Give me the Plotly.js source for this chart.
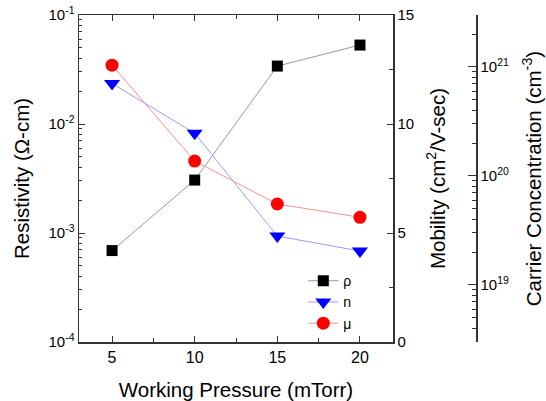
<!DOCTYPE html>
<html>
<head>
<meta charset="utf-8">
<script src="https://cdn.plot.ly/plotly-3.0.1.min.js"></script>
<style>html,body{margin:0;padding:0;background:#fff;}#chart{width:546px;height:401px;}</style>
</head>
<body>
<div id="chart"></div>
<script>
const pressure = [5, 10, 15, 20];
const resistivity = [6.9e-4, 3.06e-3, 0.034, 0.053];
const concentration = [7.05e20, 2.47e20, 2.81e19, 2.05e19];
const mobility = [12.7, 8.3, 6.33, 5.72];
const xTicks = [5, 10, 15, 20];
const resTickVals = [1e-4, 1e-3, 1e-2, 1e-1];
const resTickText = ['10<sup>-4</sup>', '10<sup>-3</sup>', '10<sup>-2</sup>', '10<sup>-1</sup>'];
const concTickVals = [1e19, 1e20, 1e21];
const concTickText = ['10<sup>19</sup>', '10<sup>20</sup>', '10<sup>21</sup>'];
const mobTickVals = [0, 5, 10, 15];

const font = 'Liberation Sans, Arial, sans-serif';
const axisColor = '#333';
const titleSize = 20.5;

const traces = [
  {x: pressure, y: resistivity, name: 'ρ', yaxis: 'y', mode: 'lines+markers',
   line: {color: '#999999', width: 1}, marker: {symbol: 'square', size: 11, color: '#000'}},
  {x: pressure, y: concentration, name: 'n', yaxis: 'y3', mode: 'lines+markers',
   line: {color: '#9a9aff', width: 1}, marker: {symbol: 'triangle-down', size: 14, color: '#0000ff'}},
  {x: pressure, y: mobility, name: 'μ', yaxis: 'y2', mode: 'lines+markers',
   line: {color: '#ff9090', width: 1}, marker: {symbol: 'circle', size: 13, color: '#ff0000'}}
];

const layout = {
  width: 546, height: 401,
  margin: {l: 79, r: 70, t: 15, b: 59},
  paper_bgcolor: '#fff', plot_bgcolor: '#fff',
  font: {family: font, size: 15, color: '#000'},
  showlegend: true,
  legend: {x: 0.565, y: 0.235, xanchor: 'left', yanchor: 'top', bgcolor: 'rgba(0,0,0,0)',
           font: {family: font, size: 14}, tracegroupgap: 0, itemwidth: 30},
  xaxis: {domain: [0, 0.791], range: [3, 22], tickvals: xTicks, ticks: 'inside', ticklen: 6,
          showline: true, linecolor: axisColor, linewidth: 1.5, mirror: 'ticks', showgrid: false, zeroline: false,
          tickcolor: axisColor, tickfont: {size: 16},
          minor: {dtick: 2.5, tick0: 0, ticks: 'inside', ticklen: 4, tickcolor: axisColor, showgrid: false},
          title: {text: 'Working Pressure (mTorr)', font: {size: titleSize}, standoff: 19}},
  yaxis: {type: 'log', range: [-4, -1], tickvals: resTickVals, ticktext: resTickText, ticks: 'inside', ticklen: 6,
          showline: true, linecolor: axisColor, linewidth: 1.5, showgrid: false, zeroline: false,
          tickcolor: axisColor, tickfont: {size: 15},
          minor: {dtick: 'D1', ticks: 'inside', ticklen: 3, tickcolor: axisColor, showgrid: false},
          title: {text: 'Resistivity (Ω-cm)', font: {size: titleSize}, standoff: 13}},
  yaxis2: {overlaying: 'y', side: 'right', anchor: 'x', range: [0, 15], tickvals: mobTickVals, ticks: 'inside', ticklen: 6,
           showline: true, linecolor: axisColor, linewidth: 1.5, showgrid: false, zeroline: false,
           tickcolor: axisColor, tickfont: {size: 15},
           minor: {dtick: 2.5, ticks: 'inside', ticklen: 4, tickcolor: axisColor, showgrid: false},
           title: {text: 'Mobility (cm<sup>2</sup>/V-sec)', font: {size: titleSize}, standoff: 17}},
  yaxis3: {overlaying: 'y', side: 'right', anchor: 'free', position: 1, type: 'log', range: [18.477, 21.477],
           tickvals: concTickVals, ticktext: concTickText, ticks: 'inside', ticklen: 8,
           showline: true, linecolor: axisColor, linewidth: 1.5, showgrid: false, zeroline: false,
           tickcolor: axisColor, tickfont: {size: 15},
           minor: {dtick: 'D1', ticks: 'inside', ticklen: 4, tickcolor: axisColor, showgrid: false},
           title: {text: 'Carrier Concentration (cm<sup>-3</sup>)', font: {size: titleSize}, standoff: 18}}
};

Plotly.newPlot('chart', traces, layout, {displayModeBar: false, staticPlot: true});
</script>
</body>
</html>
